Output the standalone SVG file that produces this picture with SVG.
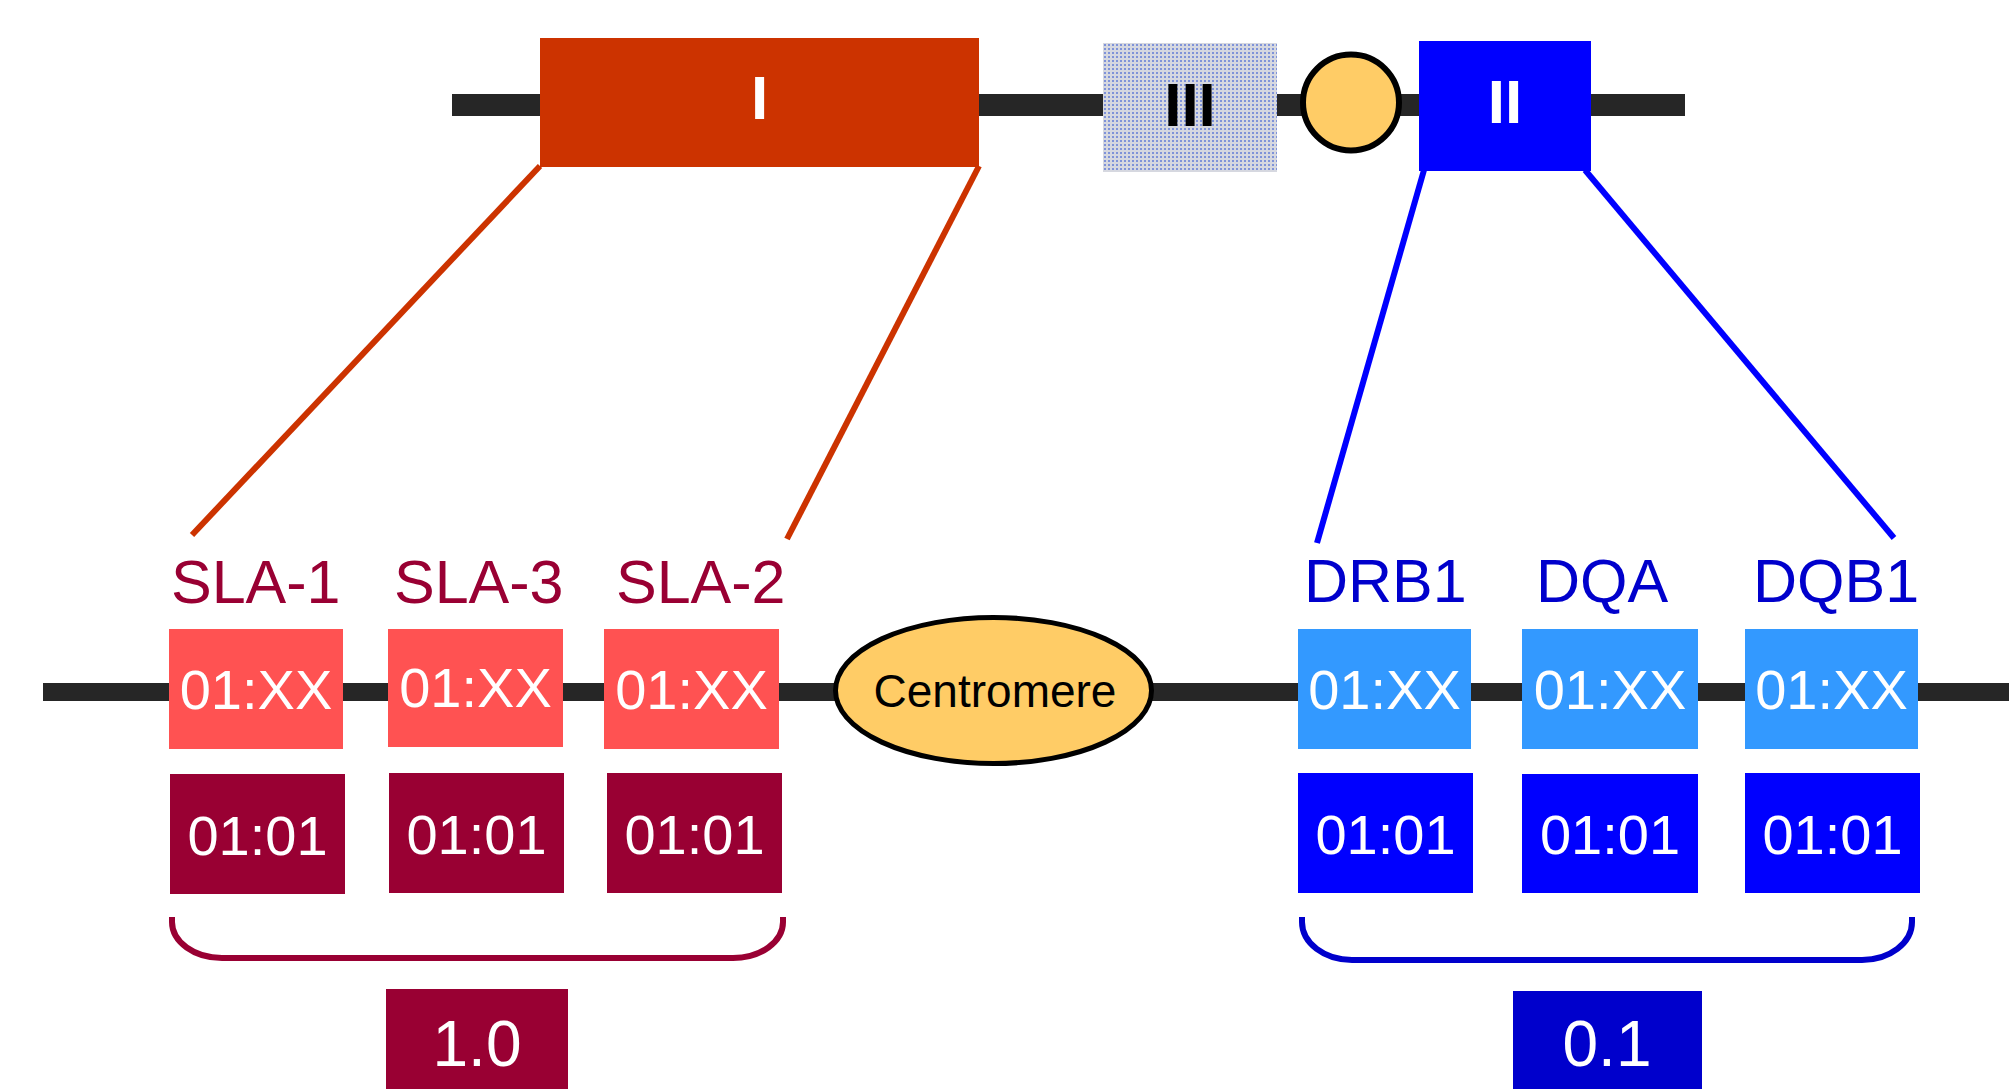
<svg xmlns="http://www.w3.org/2000/svg" width="2009" height="1089" viewBox="0 0 2009 1089">
  <style>
    .bar { stroke: #262626; fill: none; }
    .lbl { font-family: "Liberation Sans", Arial, sans-serif; }
    .gene-red { fill: #990033; font-size: 61px; }
    .gene-blue { fill: #0000CC; font-size: 61px; }
    .allele { fill: #ffffff; font-size: 56px; text-anchor: middle; }
    .roman { font-size: 62px; font-weight: bold; text-anchor: middle; }
    .score { fill: #ffffff; font-size: 64px; text-anchor: middle; }
    .xx-red { fill: #FF5252; }
    .xx-blue { fill: #3399FF; }
    .typ-red { fill: #990033; }
    .typ-blue { fill: #0000FF; }
    .link-red { stroke: #CC3300; stroke-width: 6; fill: none; }
    .link-blue { stroke: #0000FF; stroke-width: 6; fill: none; }
  </style>
  <defs>
    <pattern id="dots" width="4" height="4" patternUnits="userSpaceOnUse">
      <rect width="4" height="4" fill="#d6d8e0"/>
      <rect x="0" y="0" width="2" height="2" fill="#7f93d8"/>
    </pattern>
  </defs>

  <rect width="2009" height="1089" fill="#ffffff"/>

  <!-- chromosome backbones -->
  <g id="backbones">
    <line class="bar" x1="452" y1="105" x2="1685" y2="105" stroke-width="22"/>
    <line class="bar" x1="43" y1="692" x2="2009" y2="692" stroke-width="18"/>
  </g>

  <!-- connectors: zoom lines and brackets -->
  <g id="connectors">
    <line class="link-red" x1="540" y1="166" x2="192" y2="535"/>
    <line class="link-red" x1="979" y1="166" x2="787" y2="539"/>
    <line class="link-blue" x1="1424" y1="170" x2="1317" y2="543"/>
    <line class="link-blue" x1="1585" y1="170" x2="1894" y2="538"/>
    <path d="M172,917 L172,922 A50,36 0 0 0 222,958 L733,958 A50,36 0 0 0 783,922 L783,917" stroke="#990033" stroke-width="6" fill="none"/>
    <path d="M1302,917 L1302,922 A50,38 0 0 0 1352,960 L1862,960 A50,38 0 0 0 1912,922 L1912,917" stroke="#0000CC" stroke-width="6" fill="none"/>
  </g>

  <!-- MHC class regions on the upper chromosome -->
  <g id="class-I">
    <rect x="540" y="38" width="439" height="129" fill="#CC3300"/>
    <text class="lbl roman" x="759.5" y="119" fill="#ffffff">I</text>
  </g>
  <g id="class-III">
    <rect x="1103" y="43" width="174" height="129" fill="url(#dots)"/>
    <text class="lbl roman" x="1190" y="126" fill="#000000">III</text>
  </g>
  <g id="centromere-top">
    <circle cx="1351" cy="102.5" r="48" fill="#FFCC66" stroke="#000000" stroke-width="6"/>
  </g>
  <g id="class-II">
    <rect x="1419" y="41" width="172" height="130" fill="#0000FF"/>
    <text class="lbl roman" x="1505" y="123" fill="#ffffff">II</text>
  </g>

  <!-- class I genes -->
  <g id="SLA-1">
    <text class="lbl gene-red" x="171" y="603">SLA-1</text>
    <rect class="xx-red" x="169" y="629" width="174" height="120"/>
    <text class="lbl allele" x="256" y="709">01:XX</text>
    <rect class="typ-red" x="170" y="774" width="175" height="120"/>
    <text class="lbl allele" x="257.5" y="855">01:01</text>
  </g>
  <g id="SLA-3">
    <text class="lbl gene-red" x="394" y="603">SLA-3</text>
    <rect class="xx-red" x="388" y="629" width="175" height="118"/>
    <text class="lbl allele" x="475.5" y="707">01:XX</text>
    <rect class="typ-red" x="389" y="773" width="175" height="120"/>
    <text class="lbl allele" x="476.5" y="854">01:01</text>
  </g>
  <g id="SLA-2">
    <text class="lbl gene-red" x="616" y="603">SLA-2</text>
    <rect class="xx-red" x="604" y="629" width="175" height="120"/>
    <text class="lbl allele" x="691.5" y="709">01:XX</text>
    <rect class="typ-red" x="607" y="773" width="175" height="120"/>
    <text class="lbl allele" x="694.5" y="854">01:01</text>
  </g>

  <!-- centromere on the lower chromosome -->
  <g id="centromere">
    <ellipse cx="993.5" cy="690.5" rx="158" ry="73" fill="#FFCC66" stroke="#000000" stroke-width="5"/>
    <text class="lbl" x="995" y="707" font-size="46" text-anchor="middle" fill="#000000">Centromere</text>
  </g>

  <!-- class II genes -->
  <g id="DRB1">
    <text class="lbl gene-blue" x="1304" y="602">DRB1</text>
    <rect class="xx-blue" x="1298" y="629" width="173" height="120"/>
    <text class="lbl allele" x="1384.5" y="709">01:XX</text>
    <rect class="typ-blue" x="1298" y="773" width="175" height="120"/>
    <text class="lbl allele" x="1385.5" y="854">01:01</text>
  </g>
  <g id="DQA">
    <text class="lbl gene-blue" x="1536" y="602">DQA</text>
    <rect class="xx-blue" x="1522" y="629" width="176" height="120"/>
    <text class="lbl allele" x="1610" y="709">01:XX</text>
    <rect class="typ-blue" x="1522" y="774" width="176" height="119"/>
    <text class="lbl allele" x="1610" y="854">01:01</text>
  </g>
  <g id="DQB1">
    <text class="lbl gene-blue" x="1753" y="602">DQB1</text>
    <rect class="xx-blue" x="1745" y="629" width="173" height="120"/>
    <text class="lbl allele" x="1831.5" y="709">01:XX</text>
    <rect class="typ-blue" x="1745" y="773" width="175" height="120"/>
    <text class="lbl allele" x="1832.5" y="854">01:01</text>
  </g>

  <!-- haplotype scores -->
  <g id="score-I">
    <rect x="386" y="989" width="182" height="100" fill="#990033"/>
    <text class="lbl score" x="477" y="1066">1.0</text>
  </g>
  <g id="score-II">
    <rect x="1513" y="991" width="189" height="98" fill="#0000CC"/>
    <text class="lbl score" x="1607" y="1066">0.1</text>
  </g>
</svg>
